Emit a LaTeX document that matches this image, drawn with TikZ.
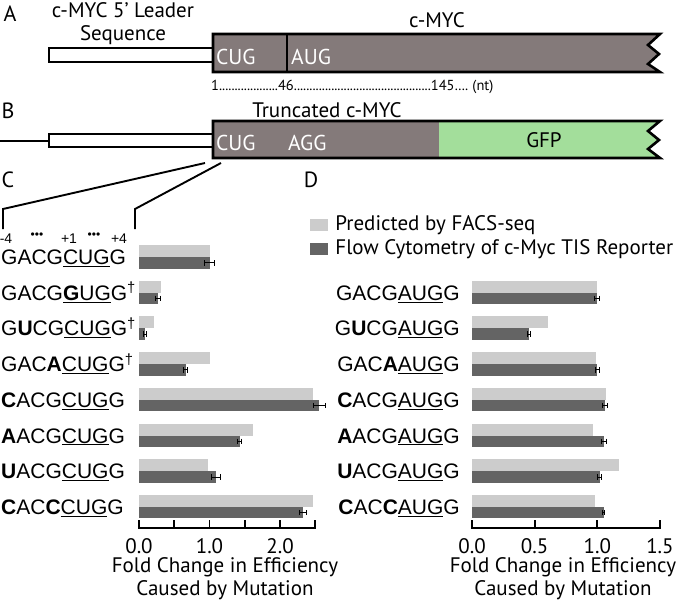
\documentclass[tikz,border=0pt]{standalone}
\usepackage{fontspec}
\setmainfont{PT Sans}
\newfontfamily\seqfont{Liberation Sans}
\usetikzlibrary{positioning}
\definecolor{mycgray}{RGB}{132,122,122}
\definecolor{gfpgreen}{RGB}{163,222,155}
\definecolor{predbar}{RGB}{204,204,204}
\definecolor{flowbar}{RGB}{100,100,100}
\tikzstyle{gene} = [draw=black,line width=2.6pt]
\tikzstyle{lbl} = [inner sep=0pt,font=\fontsize{21}{23}\selectfont]
\tikzstyle{panel} = [inner sep=0pt,font=\fontsize{22}{24}\selectfont]
\tikzstyle{codon} = [lbl,text=white,anchor=west,font=\fontsize{21.5}{23}\selectfont]
\tikzstyle{seq} = [inner sep=0pt,font=\seqfont\fontsize{21}{22}\selectfont]
\tikzstyle{posmark} = [inner sep=0pt,font=\seqfont\fontsize{14}{15}\selectfont]
\tikzstyle{pred} = [fill=predbar]
\tikzstyle{flow} = [fill=flowbar]
\tikzstyle{errbar} = [line width=0.9pt]
\tikzstyle{axis} = [line width=1.8pt]
\tikzstyle{zoomline} = [line width=1.9pt]
\newcommand{\tis}[1]{\underline{#1}}
\newcommand{\mut}[1]{\textbf{#1}}
\newcommand{\dg}{\textsuperscript{\dag}}
\newcommand{\dotrun}[1]{\hbox to #1{\xleaders\hbox{.}\hfill}}
\newcommand{\dotsmall}{{\fontsize{12}{12}\selectfont •••}}

\begin{document}
\begin{tikzpicture}[x=1pt,y=-1pt]
  \useasboundingbox (0,0) rectangle (677,605);
  % A: full length c-MYC
  \node[panel] (pA) at (10,14) {A};
  \node[lbl,align=center] (leadA) at (123,24) {c-MYC 5’ Leader\\Sequence};
  \draw[gene,fill=white] (49,48) rectangle (213,62);
  \draw[gene,fill=mycgray] (213,34) -- (660,34) -- (648,45) -- (659,54) -- (648,64) -- (660,72) -- (213,72) -- cycle;
  \draw[line width=2pt] (287,34) -- (287,72);
  \node[codon] (cugA) at (216,57) {CUG};
  \node[codon] (augA) at (291,57) {AUG};
  \node[lbl] (mycA) at (437,20) {c-MYC};
  \node[lbl,anchor=west,font=\fontsize{14.5}{16}\selectfont] (ntA) at (211,87)
    {1\dotrun{59pt}46\dotrun{137pt}145\dotrun{14pt} (nt)};

  % B: reporter
  \node[panel] (pB) at (8,111) {B};
  \draw[line width=2pt] (0,140.5) -- (49,140.5);
  \draw[gene,fill=white] (49,134) rectangle (213,147);
  \fill[mycgray] (213,121) rectangle (439,158);
  \fill[gfpgreen] (439,121) -- (660,121) -- (648,131) -- (659,140) -- (648,149) -- (660,158) -- (439,158) -- cycle;
  \draw[gene] (213,121) -- (660,121) -- (648,131) -- (659,140) -- (648,149) -- (660,158) -- (213,158) -- cycle;
  \node[lbl] (truncB) at (327,110) {Truncated c-MYC};
  \node[codon] (cugB) at (216,143) {CUG};
  \node[codon] (aggB) at (288,143) {AGG};
  \node[lbl] (gfpB) at (544,140) {GFP};

  % zoom onto the start site
  \coordinate (zl) at (205,163);
  \coordinate (zr) at (221,163);
  \coordinate (cl) at (3,209);
  \coordinate (cr) at (135,209);
  \draw[zoomline] (zl) -- (cl) -- ++(0,20);
  \draw[zoomline] (zr) -- (cr) -- ++(0,20);

  % C: near-cognate CUG
  \node[panel] (pC) at (8,180) {C};
  \node[posmark] (m4) at (6,239) {-4};
  \node[posmark] (d1) at (37,236) {\dotsmall};
  \node[posmark] (p1) at (69,239) {+1};
  \node[posmark] (d2) at (94,236) {\dotsmall};
  \node[posmark] (p4) at (119,239) {+4};
  \foreach \i/\stxt/\pv/\fv/\ev in {
      1/{GACG\tis{CUG}G}/1.00/1.00/0.07,
      2/{GACG\tis{\mut{G}UG}G\dg}/0.31/0.27/0.03,
      3/{G\mut{U}CG\tis{CUG}G\dg}/0.21/0.08/0.02,
      4/{GAC\mut{A}\tis{CUG}G\dg}/1.00/0.66/0.03,
      5/{\mut{C}ACG\tis{CUG}G}/2.47/2.56/0.08,
      6/{\mut{A}ACG\tis{CUG}G}/1.62/1.43/0.03,
      7/{\mut{U}ACG\tis{CUG}G}/0.98/1.09/0.06,
      8/{\mut{C}AC\mut{C}\tis{CUG}G}/2.47/2.33/0.05}{
    \pgfmathsetmacro{\yc}{257+(\i-1)*35.7}
    \pgfmathsetmacro{\xl}{139+70.5*(\fv-\ev)}
    \pgfmathsetmacro{\xr}{139+70.5*(\fv+\ev)}
    \node[seq,anchor=base west] (seqC\i) at (1,\yc+7.5) {\stxt};
    \fill[pred] (139,\yc-12) rectangle (139+70.5*\pv,\yc);
    \fill[flow] (139,\yc) rectangle (139+70.5*\fv,\yc+11.5);
    \draw[errbar] (\xl,\yc+3) -- (\xl,\yc+8.5) (\xl,\yc+5.75) -- (\xr,\yc+5.75) (\xr,\yc+3) -- (\xr,\yc+8.5);
  }
  \draw[axis] (139,520) -- (139,528) -- (315,528) -- (315,520);
  \foreach \t in {0.5,1,1.5,2}
    \draw[axis] (139+70.5*\t,528) -- ++(0,-8);
  \foreach \t/\tl in {0/0.0,1/1.0,2/2.0}
    \node[lbl] (tC\t) at (139+70.5*\t,546) {\tl};
  \node[lbl,align=center] (xtC) at (225,579) {Fold Change in Efficiency\\Caused by Mutation};

  % D: cognate AUG
  \node[panel] (pD) at (311,180) {D};
  \node[pred,minimum width=18pt,minimum height=12pt,inner sep=0pt] (legPbox) at (319,225) {};
  \node[flow,minimum width=18pt,minimum height=12pt,inner sep=0pt] (legFbox) at (319,249) {};
  \node[lbl,right=7pt of legPbox] (legP) {Predicted by FACS-seq};
  \node[lbl,right=7pt of legFbox] (legF) {Flow Cytometry of c-Myc TIS Reporter};
  \foreach \i/\stxt/\pv/\fv/\ev in {
      2/{GACG\tis{AUG}G}/1.00/1.00/0.02,
      3/{G\mut{U}CG\tis{AUG}G}/0.61/0.455/0.01,
      4/{GAC\mut{A}\tis{AUG}G}/0.99/1.00/0.015,
      5/{\mut{C}ACG\tis{AUG}G}/1.07/1.06/0.02,
      6/{\mut{A}ACG\tis{AUG}G}/0.965/1.05/0.02,
      7/{\mut{U}ACG\tis{AUG}G}/1.17/1.02/0.015,
      8/{\mut{C}AC\mut{C}\tis{AUG}G}/0.98/1.05/0.01}{
    \pgfmathsetmacro{\yc}{257+(\i-1)*35.7}
    \pgfmathsetmacro{\xl}{472+125.3*(\fv-\ev)}
    \pgfmathsetmacro{\xr}{472+125.3*(\fv+\ev)}
    \node[seq,anchor=base east] (seqD\i) at (460,\yc+7.5) {\stxt};
    \fill[pred] (472,\yc-12) rectangle (472+125.3*\pv,\yc);
    \fill[flow] (472,\yc) rectangle (472+125.3*\fv,\yc+11.5);
    \draw[errbar] (\xl,\yc+3) -- (\xl,\yc+8.5) (\xl,\yc+5.75) -- (\xr,\yc+5.75) (\xr,\yc+3) -- (\xr,\yc+8.5);
  }
  \draw[axis] (472,520) -- (472,528) -- (660,528) -- (660,520);
  \foreach \t in {0.5,1}
    \draw[axis] (472+125.3*\t,528) -- ++(0,-8);
  \foreach \t/\tl in {0/0.0,0.5/0.5,1/1.0,1.5/1.5}
    \node[lbl] (tD\tl) at (472+125.3*\t,546) {\tl};
  \node[lbl,align=center] (xtD) at (563,579) {Fold Change in Efficiency\\Caused by Mutation};
\end{tikzpicture}
\end{document}
